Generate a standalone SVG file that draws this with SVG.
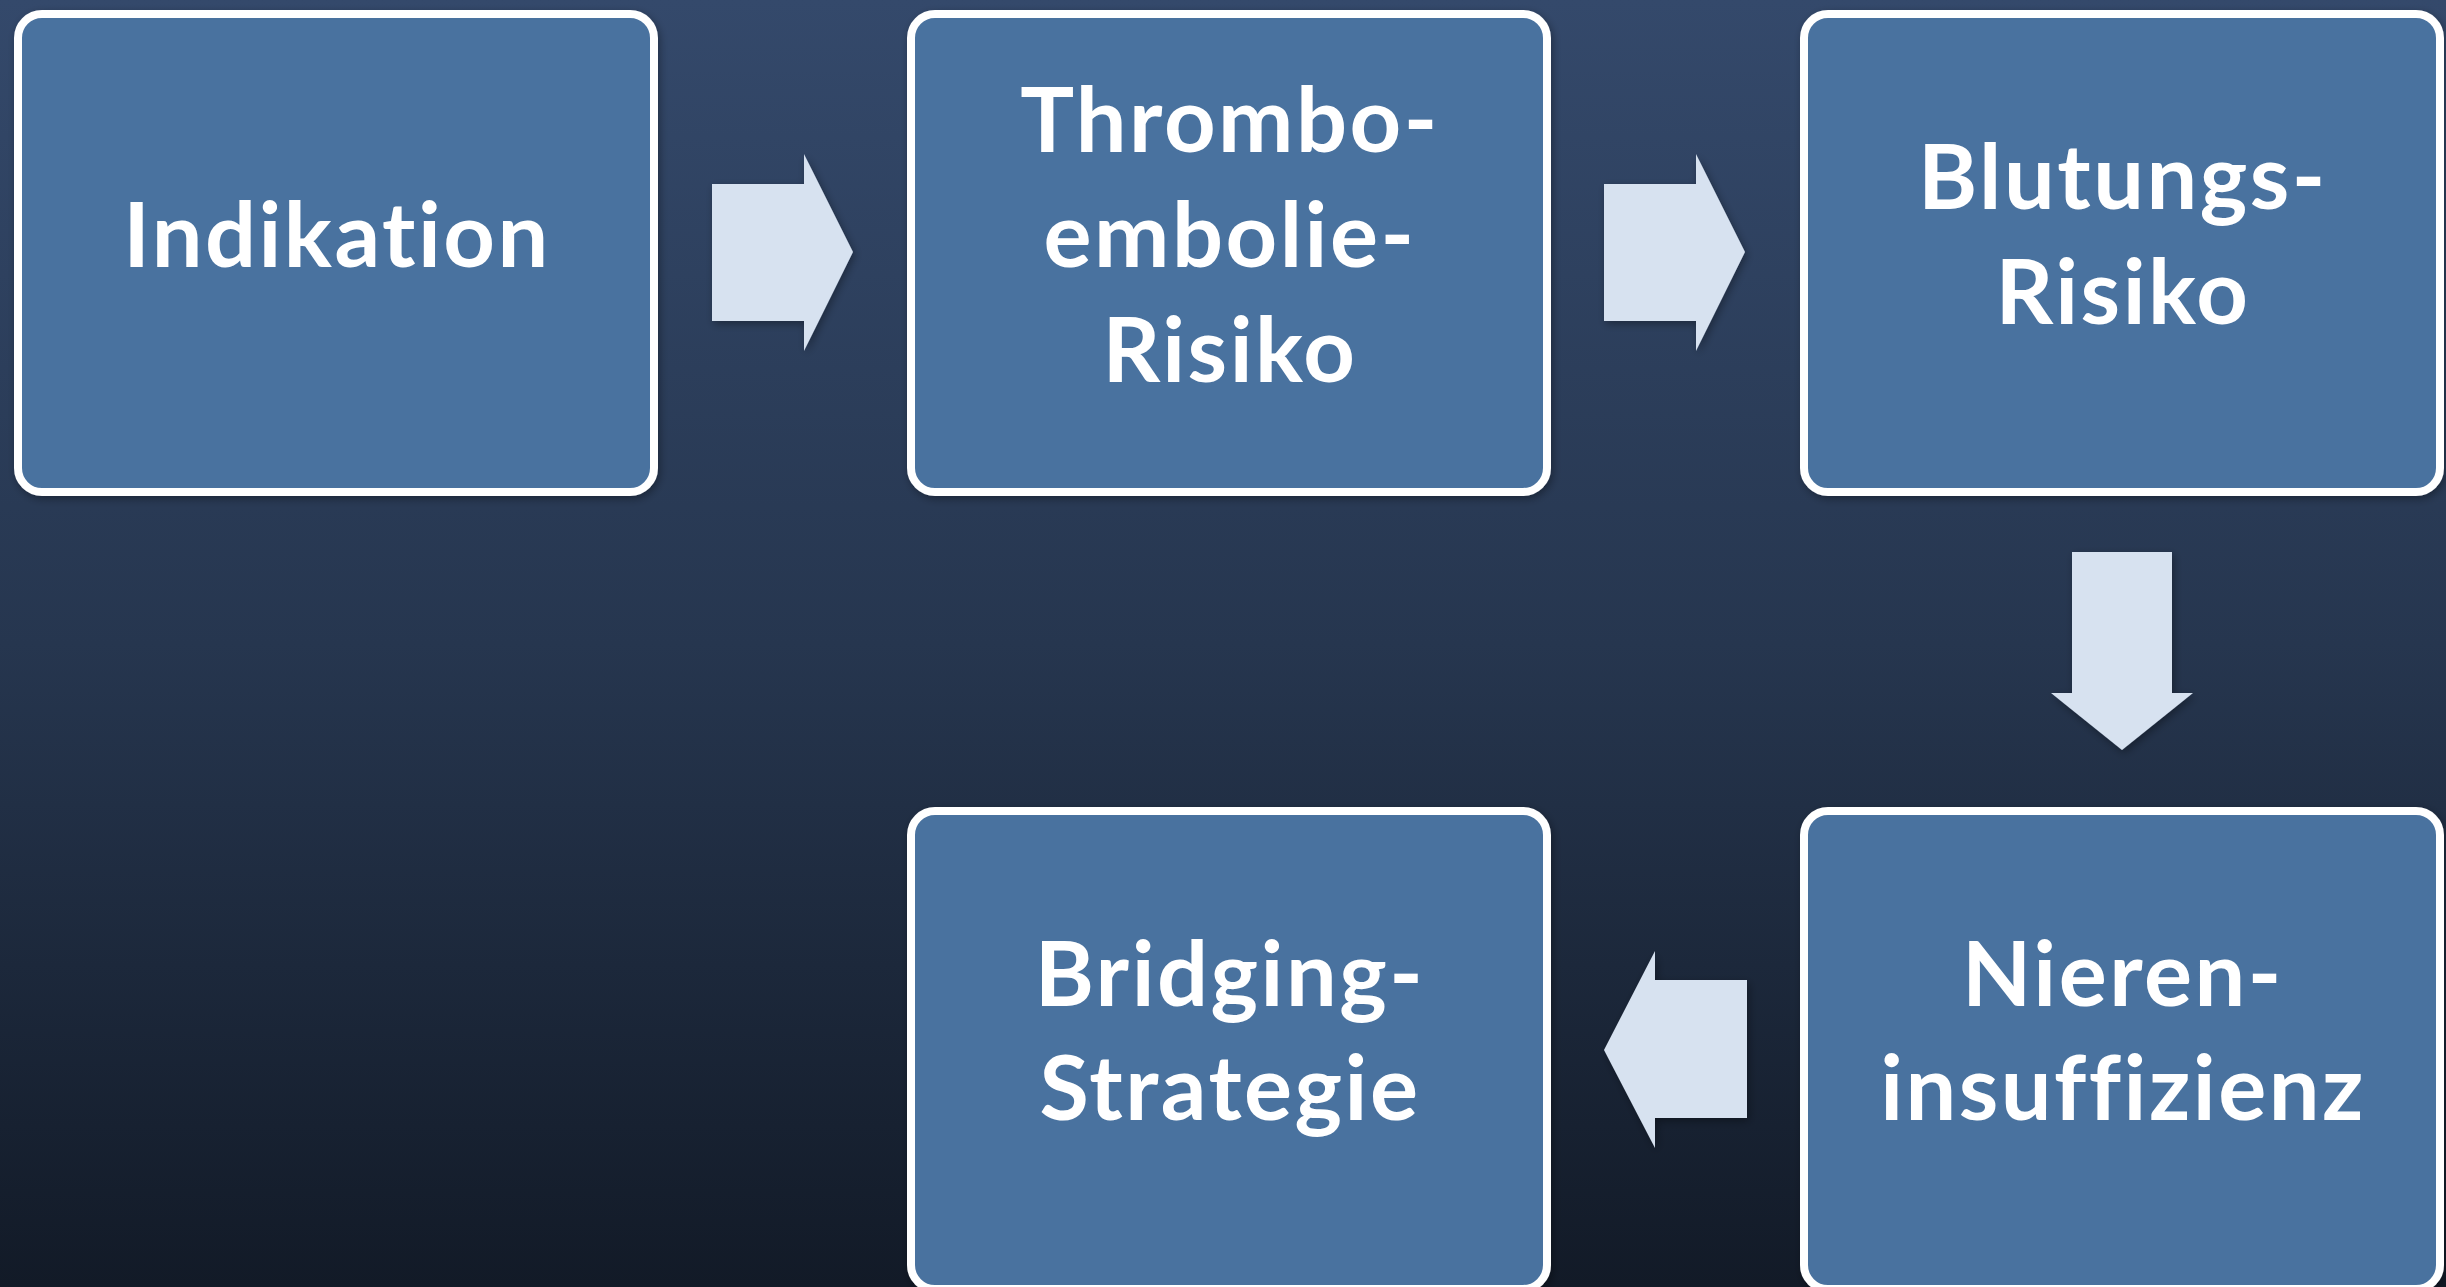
<svg xmlns="http://www.w3.org/2000/svg" width="2446" height="1287" viewBox="0 0 2446 1287">
<defs>
<linearGradient id="bg" x1="0" y1="0" x2="0" y2="1">
<stop offset="0" stop-color="#34496B"/>
<stop offset="0.5" stop-color="#26364F"/>
<stop offset="1" stop-color="#121A27"/>
</linearGradient>
<filter id="sh" x="-10%" y="-10%" width="120%" height="120%">
<feDropShadow dx="2" dy="3" stdDeviation="4" flood-color="#000" flood-opacity="0.35"/>
</filter>
<style>
.box{fill:#49729F;stroke:#FFFFFF;stroke-width:8;filter:url(#sh)}
.lbl{font-family:Lato,"Open Sans","Liberation Sans",sans-serif;font-weight:bold;font-size:90px;fill:#FFFFFF;text-anchor:middle;letter-spacing:2.5px}
.nolig{font-variant-ligatures:no-common-ligatures}
.arr{fill:#D7E2F0;filter:url(#sh)}
</style>
</defs>
<rect x="0" y="0" width="2446" height="1287" fill="url(#bg)"/>
<g id="connectors">
<polygon class="arr" points="712,184 804,184 804,154 853,252 804,351 804,321 712,321"/>
<polygon class="arr" points="1604,184 1696,184 1696,154 1745,252 1696,351 1696,321 1604,321"/>
<polygon class="arr" points="2072,552 2172,552 2172,693 2193,693 2122,750 2051,693 2072,693"/>
<polygon class="arr" points="1747,980 1655,980 1655,951 1604,1050 1655,1148 1655,1118 1747,1118"/>
</g>
<g id="node-indikation">
<rect class="box" x="18" y="14" width="636" height="478" rx="24"/>
<text class="lbl nolig" x="337" y="267">Indikation</text>
</g>
<g id="node-thromboembolie">
<rect class="box" x="911" y="14" width="636" height="478" rx="24"/>
<text class="lbl" x="1230" y="152">Thrombo-</text>
<text class="lbl" x="1230" y="267">embolie-</text>
<text class="lbl" x="1230" y="382">Risiko</text>
</g>
<g id="node-blutung">
<rect class="box" x="1804" y="14" width="636" height="478" rx="24"/>
<text class="lbl" x="2123" y="209">Blutungs-</text>
<text class="lbl" x="2123" y="324">Risiko</text>
</g>
<g id="node-nieren">
<rect class="box" x="1804" y="811" width="636" height="478" rx="24"/>
<text class="lbl" x="2123" y="1006">Nieren-</text>
<text class="lbl" x="2123" y="1120">insuffizienz</text>
</g>
<g id="node-bridging">
<rect class="box" x="911" y="811" width="636" height="478" rx="24"/>
<text class="lbl" x="1230" y="1006">Bridging-</text>
<text class="lbl" x="1230" y="1120">Strategie</text>
</g>
</svg>
